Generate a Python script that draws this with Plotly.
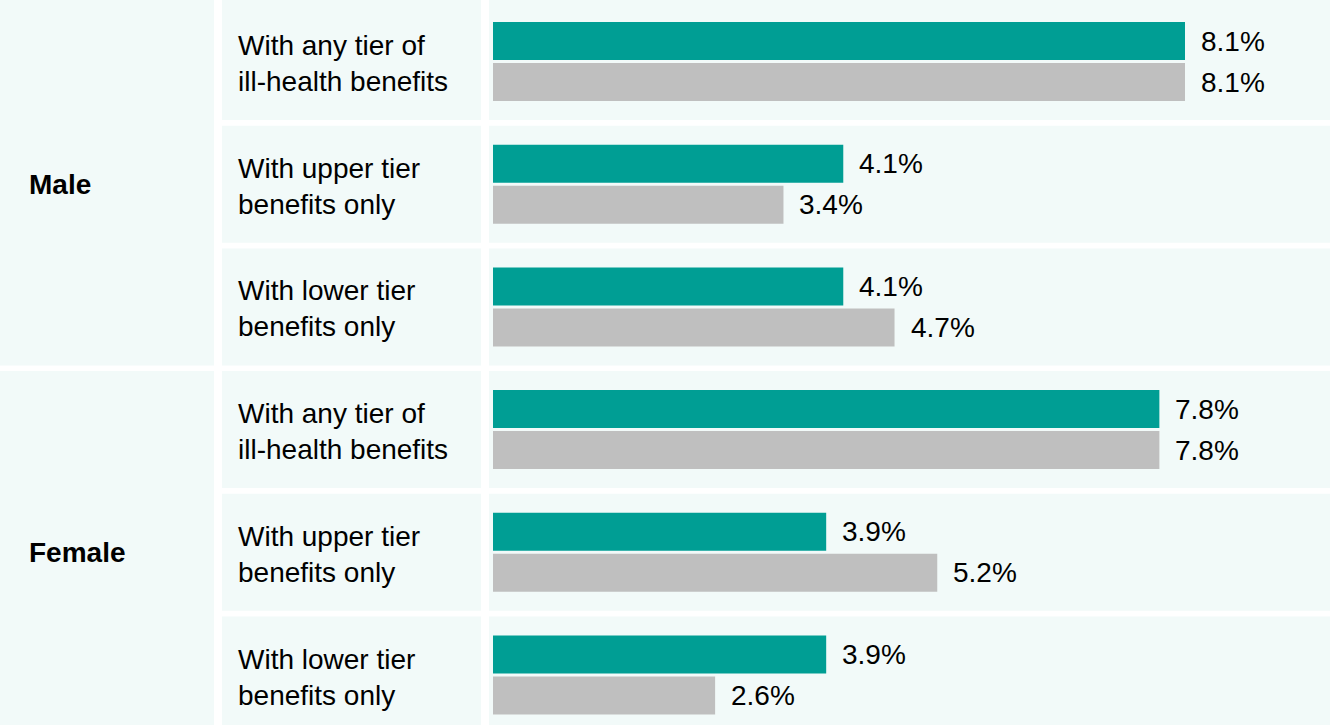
import plotly.graph_objects as go

# ---- data ----
groups = ["Male", "Female"]
subcategories = [
    "With any tier of<br>ill-health benefits",
    "With upper tier<br>benefits only",
    "With lower tier<br>benefits only",
]
series_teal = [8.1, 4.1, 4.1, 7.8, 3.9, 3.9]
series_grey = [8.1, 3.4, 4.7, 7.8, 5.2, 2.6]
series_names = ["Series 1", "Series 2"]

# ---- style ----
W, H = 1330, 725
CELL_BG = "#F2FAF9"
TEAL = "#009E94"
GREY = "#BFBFBF"
FONT = "Liberation Sans, Arial, sans-serif"
FS = 28

n_rows = len(groups) * len(subcategories)
rows = list(range(n_rows))

# pixel geometry -> axis units
ROW_PX = 122.7
ROW0_PX = 61.5
X0_PX = 493.0
PX_PER_UNIT = (1185.0 - 493.0) / 8.1

x_range = [-X0_PX / PX_PER_UNIT, (W - X0_PX) / PX_PER_UNIT]
y_range = [(H - ROW0_PX) / ROW_PX, -ROW0_PX / ROW_PX]

bar_w = 38 / ROW_PX
gap = 1.5 / ROW_PX

fig = go.Figure()
fig.add_trace(go.Bar(
    y=rows, x=series_teal, orientation="h", name=series_names[0],
    marker=dict(color=TEAL, line=dict(width=0)),
    width=[bar_w] * n_rows, offset=[-gap - bar_w] * n_rows,
    hoverinfo="x",
))
fig.add_trace(go.Bar(
    y=rows, x=series_grey, orientation="h", name=series_names[1],
    marker=dict(color=GREY, line=dict(width=0)),
    width=[bar_w] * n_rows, offset=[gap] * n_rows,
    hoverinfo="x",
))

shapes = []
half = 58.5 / ROW_PX
# columns 2 and 3 row cells
for r in rows:
    y0 = r - half if r > 0 else y_range[1]
    for (a, b) in [(222 / W, 481 / W), (489 / W, 1.0)]:
        shapes.append(dict(type="rect", xref="paper", yref="y", x0=a, x1=b,
                           y0=y0, y1=r + half, fillcolor=CELL_BG,
                           line=dict(width=0), layer="below"))
# column 1 group cells
n_sub = len(subcategories)
for g in range(len(groups)):
    first = g * n_sub
    last = first + n_sub - 1
    y0 = first - half if g > 0 else y_range[1]
    y1 = last + half if g < len(groups) - 1 else y_range[0]
    shapes.append(dict(type="rect", xref="paper", yref="y", x0=0, x1=214 / W,
                       y0=y0, y1=y1, fillcolor=CELL_BG,
                       line=dict(width=0), layer="below"))

annotations = []
# value labels
for r in rows:
    for vals, sign in [(series_teal, -1), (series_grey, 1)]:
        annotations.append(dict(
            x=vals[r], y=r + sign * (gap + bar_w / 2), xref="x", yref="y",
            text=f"{vals[r]:.1f}%", showarrow=False, xanchor="left",
            yanchor="middle", xshift=14,
            font=dict(family=FONT, size=FS, color="#000000"),
        ))
# subcategory labels
for r in rows:
    annotations.append(dict(
        x=236 / W, y=r, xref="paper", yref="y",
        text=subcategories[r % n_sub], showarrow=False, xanchor="left",
        yanchor="middle", align="left", yshift=-2,
        font=dict(family=FONT, size=FS, color="#000000"),
    ))
# group labels
for g, name in enumerate(groups):
    annotations.append(dict(
        x=27 / W, y=g * n_sub + (n_sub - 1) / 2, xref="paper", yref="y",
        text=f"<b>{name}</b>", showarrow=False, xanchor="left",
        yanchor="middle",
        font=dict(family=FONT, size=FS, color="#000000"),
    ))

fig.update_layout(
    width=W, height=H,
    margin=dict(l=0, r=0, t=0, b=0),
    paper_bgcolor="white", plot_bgcolor="rgba(0,0,0,0)",
    showlegend=False,
    barmode="overlay",
    xaxis=dict(range=x_range, visible=False, fixedrange=True),
    yaxis=dict(range=y_range, visible=False, fixedrange=True),
    shapes=shapes, annotations=annotations,
    font=dict(family=FONT),
)

fig.write_html(
    "out.html",
    config={"displayModeBar": False},
    post_script="document.body.style.margin='0';document.body.style.overflow='hidden';",
)
